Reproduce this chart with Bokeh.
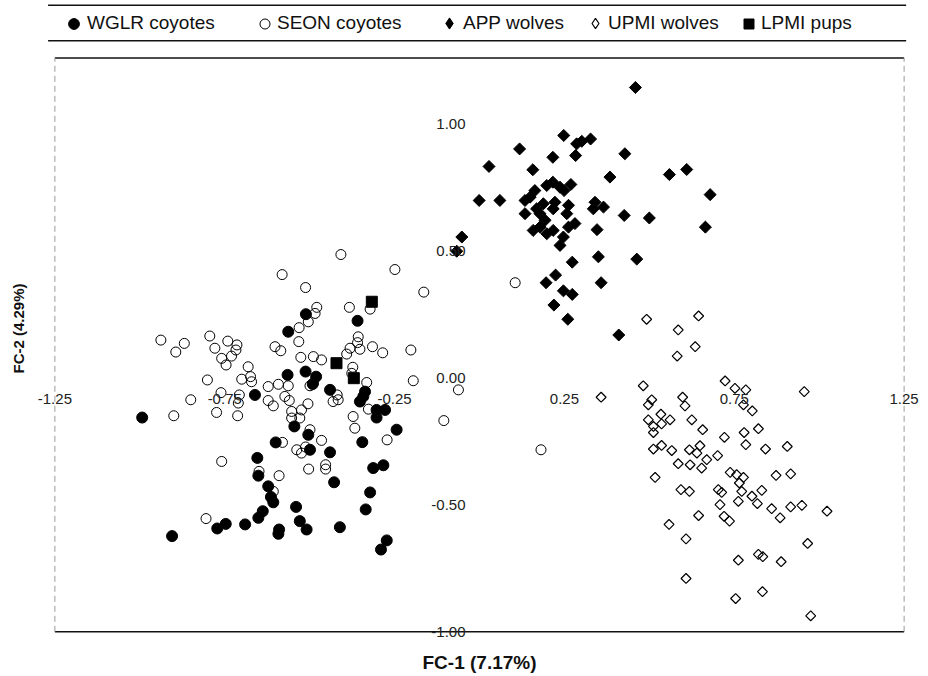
import math
from bokeh.plotting import figure
from bokeh.models import (Range1d, FixedTicker, PrintfTickFormatter, LinearAxis,
                          Legend, LegendItem, Title)
from bokeh.layouts import column
from bokeh.embed import file_html
from bokeh.resources import INLINE

FONT = "Liberation Sans"

# ---------------- data ----------------
x_limits = (-1.25, 1.25)
y_limits = (-1.0, 1.26)
x_ticks = [-1.25, -0.75, -0.25, 0.25, 0.75, 1.25]
y_ticks = [-1.0, -0.5, 0.0, 0.5, 1.0]
x_title = "FC-1 (7.17%)"
y_title = "FC-2 (4.29%)"

wglr_x = [-0.993, -0.511, -0.563, -0.359, -0.565, -0.512, -0.481, -0.491, -0.661, -0.440,
          -0.352, -0.337, -0.342, -0.303, -0.278, -0.303, -0.244, -0.545, -0.504, -0.600,
          -0.345, -0.499, -0.440, -0.654, -0.651, -0.428, -0.313, -0.283, -0.622, -0.614,
          -0.607, -0.322, -0.335, -0.540, -0.638, -0.651, -0.529, -0.509, -0.747, -0.772,
          -0.690, -0.590, -0.592, -0.411, -0.905, -0.273, -0.290]
wglr_y = [-0.156, 0.251, 0.182, 0.225, 0.012, 0.025, 0.005, -0.024, -0.067, -0.047,
          -0.093, -0.054, -0.073, -0.126, -0.126, -0.156, -0.204, -0.191, -0.224, -0.254,
          -0.253, -0.283, -0.293, -0.315, -0.385, -0.411, -0.355, -0.344, -0.427, -0.469,
          -0.490, -0.451, -0.518, -0.508, -0.525, -0.551, -0.564, -0.597, -0.575, -0.593,
          -0.577, -0.597, -0.614, -0.588, -0.623, -0.640, -0.676]

seon_x = [-0.408, -0.581, -0.249, -0.512, -0.164, -0.479, -0.383, -0.322, -0.484, -0.504,
          -0.531, -0.532, -0.938, -0.869, -0.894, -0.794, -0.779, -0.741, -0.714, -0.717,
          -0.730, -0.759, -0.746, -0.602, -0.585, -0.526, -0.489, -0.465, -0.357, -0.359,
          -0.381, -0.391, -0.352, -0.315, -0.285, -0.202, -0.373, -0.376, -0.681, -0.674,
          -0.671, -0.700, -0.801, -0.195, -0.622, -0.592, -0.563, -0.489, -0.499, -0.332,
          -0.761, -0.850, -0.707, -0.710, -0.774, -0.900, -0.712, -0.622, -0.607, -0.573,
          -0.560, -0.505, -0.524, -0.553, -0.553, -0.529, -0.431, -0.419, -0.416, -0.327,
          -0.372, -0.367, -0.272, -0.105, -0.062, -0.499, -0.465, -0.580, -0.759, -0.538,
          -0.524, -0.512, -0.503, -0.453, -0.453, -0.590, -0.649, -0.805, -0.607, 0.105,
          0.181]
seon_y = [0.486, 0.407, 0.427, 0.356, 0.338, 0.278, 0.278, 0.271, 0.254, 0.221,
          0.198, 0.143, 0.149, 0.136, 0.102, 0.165, 0.117, 0.145, 0.130, 0.110,
          0.086, 0.077, 0.051, 0.123, 0.107, 0.081, 0.084, 0.071, 0.162, 0.139,
          0.117, 0.094, 0.113, 0.123, 0.099, 0.110, 0.042, 0.018, 0.044, 0.005,
          -0.015, -0.005, -0.008, -0.011, -0.034, -0.025, -0.031, -0.021, -0.031, -0.018,
          -0.058, -0.086, -0.067, -0.099, -0.136, -0.149, -0.149, -0.089, -0.110, -0.073,
          -0.089, -0.102, -0.126, -0.132, -0.158, -0.158, -0.093, -0.067, -0.086, -0.123,
          -0.152, -0.198, -0.244, -0.168, -0.047, -0.204, -0.246, -0.254, -0.329, -0.283,
          -0.296, -0.272, -0.359, -0.342, -0.359, -0.385, -0.368, -0.554, -0.447, 0.375,
          -0.283]

app_x = [0.459, 0.248, 0.286, 0.301, 0.327, 0.283, 0.216, 0.118, 0.028, 0.157,
         0.428, 0.384, 0.559, 0.610, 0.679, 0.665, -0.001, 0.060, 0.163, 0.198,
         0.216, 0.237, 0.249, 0.269, 0.134, 0.168, 0.134, 0.158, 0.198, 0.217,
         0.222, 0.217, 0.262, 0.257, 0.281, 0.262, 0.247, 0.237, 0.193, 0.178,
         0.340, 0.365, 0.335, 0.426, 0.500, 0.346, 0.350, 0.463, 0.273, 0.224,
         0.196, 0.358, 0.247, 0.273, 0.219, 0.260, 0.410, -0.052, -0.067, 0.149,
         0.188, 0.178]
app_y = [1.144, 0.955, 0.922, 0.932, 0.941, 0.876, 0.869, 0.902, 0.833, 0.820,
         0.883, 0.791, 0.801, 0.821, 0.722, 0.594, 0.699, 0.699, 0.738, 0.758,
         0.771, 0.751, 0.738, 0.762, 0.699, 0.666, 0.647, 0.581, 0.568, 0.581,
         0.692, 0.666, 0.680, 0.647, 0.608, 0.594, 0.555, 0.522, 0.621, 0.647,
         0.692, 0.673, 0.666, 0.640, 0.630, 0.584, 0.477, 0.468, 0.456, 0.405,
         0.375, 0.375, 0.343, 0.329, 0.287, 0.231, 0.169, 0.555, 0.499, 0.712,
         0.686, 0.594]

upmi_x = [0.492, 0.585, 0.645, 0.635, 0.582, 0.723, 0.752, 0.784, 0.956, 0.482,
          0.358, 0.507, 0.497, 0.598, 0.605, 0.777, 0.803, 0.534, 0.561, 0.497,
          0.536, 0.512, 0.512, 0.625, 0.657, 0.721, 0.779, 0.821, 0.512, 0.536,
          0.566, 0.618, 0.649, 0.640, 0.669, 0.654, 0.701, 0.784, 0.842, 0.906,
          0.585, 0.620, 0.738, 0.757, 0.777, 0.765, 0.772, 0.831, 0.873, 0.916,
          0.517, 0.593, 0.618, 0.703, 0.713, 0.802, 0.762, 0.818, 0.860, 0.885,
          0.916, 0.949, 1.023, 0.708, 0.720, 0.736, 0.645, 0.558, 0.608, 0.966,
          0.762, 0.821, 0.834, 0.888, 0.608, 0.754, 0.833, 0.975]
upmi_y = [0.231, 0.189, 0.244, 0.123, 0.086, -0.012, -0.041, -0.047, -0.054, -0.031,
          -0.076, -0.086, -0.106, -0.076, -0.110, -0.106, -0.130, -0.143, -0.165, -0.165,
          -0.181, -0.191, -0.215, -0.165, -0.204, -0.234, -0.215, -0.200, -0.280, -0.266,
          -0.286, -0.283, -0.267, -0.296, -0.322, -0.355, -0.306, -0.263, -0.280, -0.270,
          -0.338, -0.342, -0.372, -0.381, -0.392, -0.414, -0.447, -0.443, -0.384, -0.378,
          -0.392, -0.440, -0.447, -0.440, -0.451, -0.466, -0.486, -0.495, -0.515, -0.551,
          -0.508, -0.502, -0.525, -0.499, -0.545, -0.564, -0.542, -0.577, -0.634, -0.652,
          -0.718, -0.695, -0.704, -0.724, -0.790, -0.869, -0.842, -0.937]

lpmi_x = [-0.317, -0.421, -0.370]
lpmi_y = [0.300, 0.058, -0.001]

labels = ["WGLR coyotes", "SEON coyotes", "APP wolves", "UPMI wolves", "LPMI pups"]

# ---------------- view / styling constants ----------------
# view slightly wider than the drawn box so that edge tick labels are not clipped
x_view = (-1.31, 1.31)
y_view = (-1.05, 1.27)
legend_rule_x = (-1.27, 1.256)    # horizontal extent of the rules around the legend
BORDER_L, BORDER_R = 34, 4

# ---------------- main plot ----------------
p = figure(width=928, height=634,
           x_range=Range1d(*x_view), y_range=Range1d(*y_view),
           output_backend="svg", toolbar_location=None,
           min_border_left=BORDER_L, min_border_right=BORDER_R,
           min_border_top=13, min_border_bottom=32)
p.outline_line_color = None
p.xgrid.visible = False
p.ygrid.visible = False

for ax in (p.xaxis[0], p.yaxis[0]):
    ax.fixed_location = 0
    ax.axis_line_color = None
    ax.major_tick_line_color = None
    ax.minor_tick_line_color = None
    ax.major_tick_out = 0
    ax.major_tick_in = 0
    ax.minor_tick_out = 0
    ax.major_label_text_font = FONT
    ax.major_label_text_font_size = "15px"
    ax.major_label_text_color = "#222222"
    ax.formatter = PrintfTickFormatter(format="%.2f")
p.xaxis[0].ticker = FixedTicker(ticks=x_ticks)
p.yaxis[0].ticker = FixedTicker(ticks=y_ticks)
p.xaxis[0].major_label_standoff = 16
p.yaxis[0].major_label_standoff = 14

p.add_layout(LinearAxis(ticker=FixedTicker(ticks=[]), axis_label=x_title,
                        axis_line_color=None, major_tick_line_color=None,
                        minor_tick_line_color=None, major_tick_out=0, minor_tick_out=0,
                        major_label_text_font_size="0px",
                        axis_label_standoff=7, axis_label_text_font=FONT,
                        axis_label_text_font_size="19px", axis_label_text_font_style="bold",
                        axis_label_text_color="#111111"), "below")
p.add_layout(Title(text=y_title, align="left", offset=271, standoff=14,
                   vertical_align="middle", text_font=FONT, text_font_size="15px",
                   text_font_style="bold", text_color="#111111"), "left")

# box drawn at the chart limits: solid top/bottom, faint dashed sides
x0, x1 = x_limits
y0, y1 = y_limits
p.segment(x0=[x0, x0], y0=[y1, y0], x1=[x1, x1], y1=[y1, y0],
          line_color="#111111", line_width=1.5)
p.segment(x0=[x0, x1], y0=[y0, y0], x1=[x0, x1], y1=[y1, y1],
          line_color="#9a9a9a", line_width=1, line_dash="6 4")

p.scatter(wglr_x, wglr_y, marker="circle", size=11, fill_color="black", line_color="black")
p.scatter(seon_x, seon_y, marker="circle", size=10, fill_color=None, line_color="black",
          line_width=1)
p.scatter(lpmi_x, lpmi_y, marker="square", size=11, fill_color="black", line_color="black")
p.scatter(app_x, app_y, marker="square", angle=math.pi / 4, size=8.5,
          fill_color="black", line_color="black")
p.scatter(upmi_x, upmi_y, marker="square", angle=math.pi / 4, size=7,
          fill_color=None, line_color="black", line_width=1.2)

# ---------------- legend strip ----------------
lf = figure(width=928, height=42, x_range=Range1d(*x_view), y_range=Range1d(-0.05, 1.05),
            output_backend="svg", toolbar_location=None,
            x_axis_location=None, y_axis_location=None,
            min_border_left=BORDER_L, min_border_right=BORDER_R,
            min_border_top=3, min_border_bottom=0)
lf.outline_line_color = None
lf.xgrid.visible = False
lf.ygrid.visible = False
lf.segment(x0=[legend_rule_x[0]] * 2, x1=[legend_rule_x[1]] * 2, y0=[0, 1], y1=[0, 1],
           line_color="#111111", line_width=1.5)

styles = [
    dict(marker="circle", fill_color="black", line_color="black"),
    dict(marker="circle", fill_color=None, line_color="black", line_width=1),
    dict(marker="diamond", fill_color="black", line_color="black"),
    dict(marker="diamond", fill_color=None, line_color="black", line_width=1.2),
    dict(marker="square", fill_color="black", line_color="black"),
]
# (glyph box size, x offset, y offset) in screen pixels within the strip
slots = [(27, 26, 5.5), (25, 218, 6.5), (28, 401, 5), (26, 548, 6), (25, 702, 6.5)]
nan = float("nan")
for lab, st, (box, lx, ly) in zip(labels, styles, slots):
    r = lf.scatter(x=[nan], y=[nan], **st)   # legend proxy, not drawn in view
    leg = Legend(items=[LegendItem(label=lab, renderers=[r])], location=(lx, ly),
                 glyph_width=box, glyph_height=box, label_standoff=0, padding=0,
                 margin=0, border_line_color=None, background_fill_alpha=0,
                 label_text_font=FONT, label_text_font_size="19px",
                 label_text_color="#111111")
    lf.add_layout(leg)

layout = column(lf, p)
open("out.html", "w").write(file_html(layout, INLINE))
